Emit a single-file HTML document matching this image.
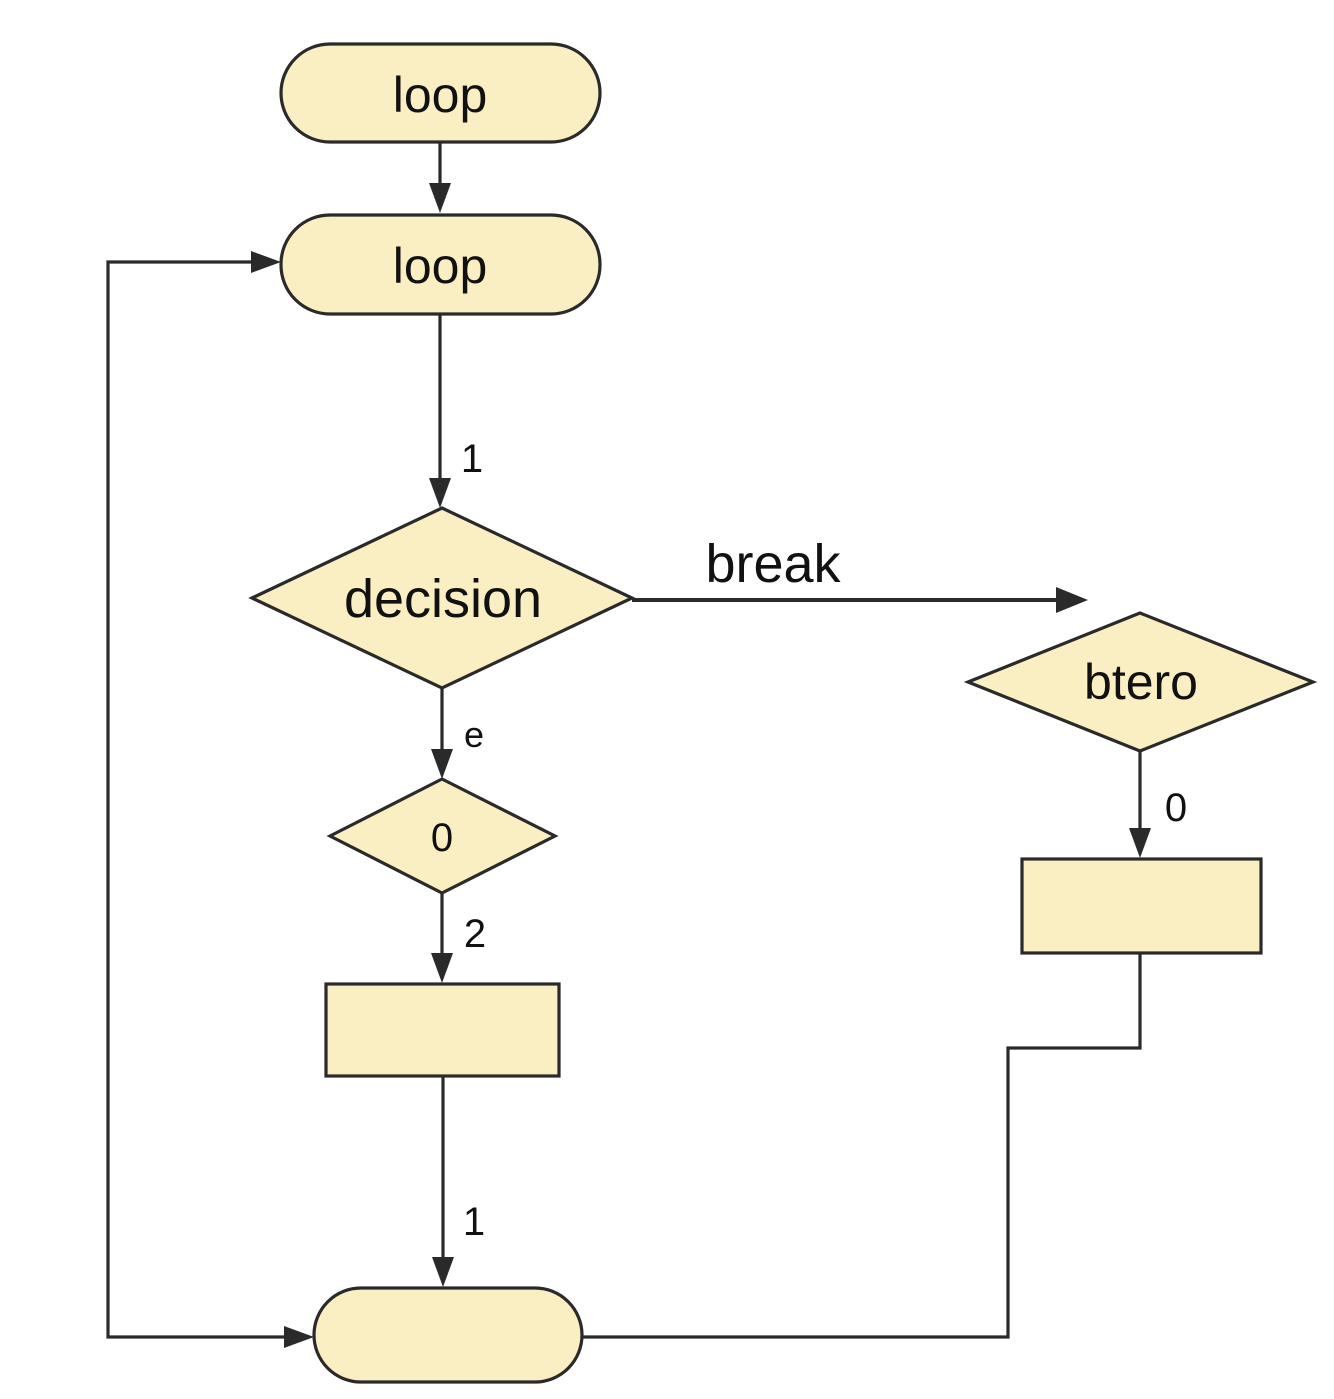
<!DOCTYPE html>
<html><head><style>html,body{margin:0;padding:0;background:#fff}</style></head>
<body>
<svg width="1334" height="1394" viewBox="0 0 1334 1394" xmlns="http://www.w3.org/2000/svg" font-family="Liberation Sans, sans-serif" fill="#111">
<g stroke="#2a2a2a" stroke-width="3.2" fill="#faefc3">
<rect x="281" y="44" width="319" height="98" rx="49"/>
<rect x="281" y="215" width="319" height="99" rx="49"/>
<polygon points="252,598 442,508 632,598 442,688"/>
<polygon points="968,682 1140,613 1313,682 1140,751"/>
<polygon points="330,836 442,779 555,836 442,893"/>
<rect x="326" y="984" width="233" height="92"/>
<rect x="1022" y="859" width="239" height="94"/>
<rect x="314" y="1288" width="268" height="94" rx="47"/>
</g>
<g stroke="#2a2a2a" stroke-width="3.2" fill="none">
<line x1="440" y1="142" x2="440" y2="185"/>
<line x1="440" y1="314" x2="440" y2="480"/>
<line x1="632" y1="600" x2="1058" y2="600" stroke-width="4"/>
<line x1="1140" y1="751" x2="1140" y2="830"/>
<line x1="442" y1="688" x2="442" y2="751"/>
<line x1="442" y1="893" x2="442" y2="955"/>
<line x1="443" y1="1076" x2="443" y2="1259"/>
<polyline points="1140,953 1140,1048 1008,1048 1008,1337 582,1337"/>
<polyline points="286,1337 108,1337 108,262 253,262"/>
</g>
<g fill="#2a2a2a">
<polygon points="429,183 451,183 440,213"/>
<polygon points="429,478 451,478 440,508"/>
<polygon points="1056,587 1056,613 1088,600"/>
<polygon points="1129,828 1151,828 1140,858"/>
<polygon points="431,749 453,749 442,779"/>
<polygon points="431,953 453,953 442,983"/>
<polygon points="432,1257 454,1257 443,1287"/>
<polygon points="251,251 251,273 281,262"/>
<polygon points="284,1326 284,1348 314,1337"/>
</g>
<g text-anchor="middle">
<text x="440" y="112" font-size="50">loop</text>
<text x="440" y="283" font-size="50">loop</text>
<text x="443" y="617" font-size="54">decision</text>
<text x="1141" y="699" font-size="50">btero</text>
<text x="773" y="582" font-size="54">break</text>
</g>
<g font-size="40" text-anchor="middle">
<text x="442" y="851">0</text>
<text x="472" y="472">1</text>
<text x="474" y="747" font-size="36">e</text>
<text x="475" y="947">2</text>
<text x="474" y="1235">1</text>
<text x="1176" y="821">0</text>
</g>
</svg>
</body></html>
